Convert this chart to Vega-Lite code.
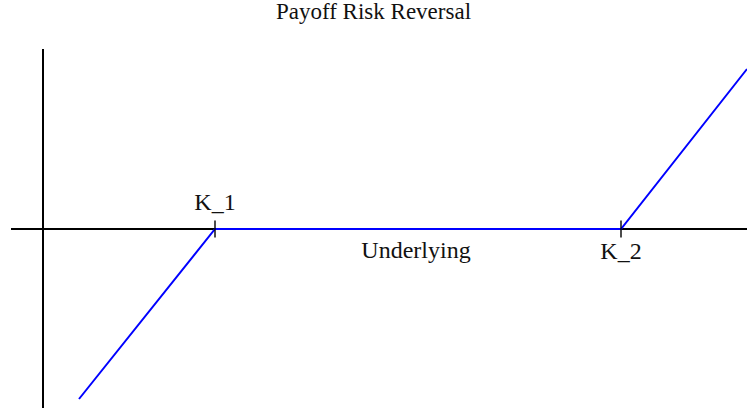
{
  "$schema": "https://vega.github.io/schema/vega-lite/v6.json",
  "width": 747,
  "height": 409,
  "padding": 0,
  "autosize": {"type": "none"},
  "background": "white",
  "config": {"view": {"stroke": null}},
  "title": {"text": "Payoff Risk Reversal", "font": "Liberation Serif", "fontSize": 23, "fontWeight": "normal", "color": "#111", "anchor": "middle", "offset": -24},
  "datasets": {
    "payoff": [{"u": 36, "p": -170}, {"u": 172, "p": 0}, {"u": 578, "p": 0}, {"u": 704, "p": 160}],
    "axes": [{"x": -32, "x2": 704, "y": 0, "y2": 0}, {"x": 0, "x2": 0, "y": 180, "y2": -179}],
    "strikes": [{"k": 172, "name": "K_1", "side": "above"}, {"k": 578, "name": "K_2", "side": "below"}],
    "axislabel": [{"u": 373, "name": "Underlying"}]
  },
  "layer": [
    {
      "data": {"name": "axes"},
      "mark": {"type": "rule", "stroke": "#000", "strokeWidth": 2},
      "encoding": {
        "x": {"field": "x", "type": "quantitative", "axis": null, "scale": {"domain": [-43, 704], "nice": false, "zero": false}},
        "x2": {"field": "x2"},
        "y": {"field": "y", "type": "quantitative", "axis": null, "scale": {"domain": [-180, 229], "nice": false, "zero": false}},
        "y2": {"field": "y2"}
      }
    },
    {
      "data": {"name": "payoff"},
      "mark": {"type": "line", "stroke": "#0000ff", "strokeWidth": 2, "clip": true},
      "encoding": {
        "x": {"field": "u", "type": "quantitative", "axis": null, "scale": {"domain": [-43, 704], "nice": false, "zero": false}},
        "y": {"field": "p", "type": "quantitative", "axis": null, "scale": {"domain": [-180, 229], "nice": false, "zero": false}},
        "order": {"field": "u"}
      }
    },
    {
      "data": {"name": "strikes"},
      "mark": {"type": "tick", "orient": "vertical", "color": "#000", "thickness": 2, "size": 17},
      "encoding": {
        "x": {"field": "k", "type": "quantitative", "axis": null, "scale": {"domain": [-43, 704], "nice": false, "zero": false}},
        "y": {"datum": 0, "type": "quantitative", "axis": null, "scale": {"domain": [-180, 229], "nice": false, "zero": false}}
      }
    },
    {
      "data": {"name": "strikes"},
      "transform": [{"filter": "datum.side === 'above'"}],
      "mark": {"type": "text", "font": "Liberation Serif", "fontSize": 24, "color": "#111", "baseline": "alphabetic", "align": "center", "dy": -19},
      "encoding": {
        "x": {"field": "k", "type": "quantitative", "axis": null, "scale": {"domain": [-43, 704], "nice": false, "zero": false}},
        "y": {"datum": 0, "type": "quantitative", "axis": null, "scale": {"domain": [-180, 229], "nice": false, "zero": false}},
        "text": {"field": "name"}
      }
    },
    {
      "data": {"name": "strikes"},
      "transform": [{"filter": "datum.side === 'below'"}],
      "mark": {"type": "text", "font": "Liberation Serif", "fontSize": 24, "color": "#111", "baseline": "alphabetic", "align": "center", "dy": 30},
      "encoding": {
        "x": {"field": "k", "type": "quantitative", "axis": null, "scale": {"domain": [-43, 704], "nice": false, "zero": false}},
        "y": {"datum": 0, "type": "quantitative", "axis": null, "scale": {"domain": [-180, 229], "nice": false, "zero": false}},
        "text": {"field": "name"}
      }
    },
    {
      "data": {"name": "axislabel"},
      "mark": {"type": "text", "font": "Liberation Serif", "fontSize": 24, "color": "#111", "baseline": "alphabetic", "align": "center", "dy": 29},
      "encoding": {
        "x": {"field": "u", "type": "quantitative", "axis": null, "scale": {"domain": [-43, 704], "nice": false, "zero": false}},
        "y": {"datum": 0, "type": "quantitative", "axis": null, "scale": {"domain": [-180, 229], "nice": false, "zero": false}},
        "text": {"field": "name"}
      }
    }
  ]
}
